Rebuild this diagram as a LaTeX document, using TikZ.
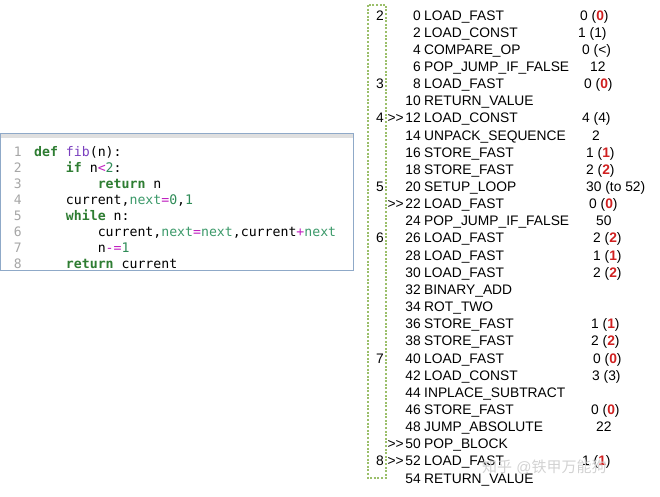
\documentclass[tikz,border=0pt]{standalone}
\usepackage{fontspec}
\setmainfont{Liberation Sans}
\setmonofont{DejaVu Sans Mono}
\newfontfamily\cjk{Noto Sans CJK SC}
\definecolor{kw}{HTML}{2E7D32}
\definecolor{fn}{HTML}{7A3FBF}
\definecolor{vr}{HTML}{3C9A6A}
\definecolor{op}{HTML}{C020C0}
\definecolor{nm}{HTML}{2E8B57}
\definecolor{rd}{HTML}{D02020}
\definecolor{dotg}{HTML}{9BBF6A}
\newcommand{\K}[1]{\textcolor{kw}{\textbf{#1}}}
\newcommand{\R}[1]{\textcolor{rd}{\textbf{#1}}}
\begin{document}
\begin{tikzpicture}[x=1pt,y=-1pt,
  bc/.style={anchor=base west,inner sep=0pt,font=\fontsize{13.8}{14}\selectfont},
  bn/.style={anchor=base east,inner sep=0pt,font=\fontsize{13.8}{14}\selectfont},
  cd/.style={anchor=base west,inner sep=0pt,font=\ttfamily\fontsize{13.2}{14}\selectfont},
  ln/.style={anchor=base east,inner sep=0pt,text=gray!70,font=\ttfamily\fontsize{13}{14}\selectfont}]
\useasboundingbox (0,0) rectangle (660,496);
% code box
\fill[white] (0,133) rectangle (353,270);
\fill[gray!25] (0,133) rectangle (353,138);
\draw[color={rgb,255:red,143;green,169;blue,200}, line width=1pt] (0,133) rectangle (353,270);
\foreach \i in {1,...,8} {\node[ln] (l\i) at (22,{156+16*(\i-1)}) {\i};}
\node[cd] (c1) at (34,156) {\K{def} \textcolor{fn}{fib}(n):};
\node[cd] (c2) at (34,172) {\phantom{xxxx}\K{if} n\textcolor{op}{<}\textcolor{nm}{2}:};
\node[cd] (c3) at (34,188) {\phantom{xxxxxxxx}\K{return} n};
\node[cd] (c4) at (34,204) {\phantom{xxxx}current,\textcolor{vr}{next}\textcolor{op}{=}\textcolor{nm}{0},\textcolor{nm}{1}};
\node[cd] (c5) at (34,220) {\phantom{xxxx}\K{while} n:};
\node[cd] (c6) at (34,236) {\phantom{xxxxxxxx}current,\textcolor{vr}{next}\textcolor{op}{=}\textcolor{vr}{next},current\textcolor{op}{+}\textcolor{vr}{next}};
\node[cd] (c7) at (34,252) {\phantom{xxxxxxxx}n\textcolor{op}{-=}\textcolor{nm}{1}};
\node[cd] (c8) at (34,268) {\phantom{xxxx}\K{return} current};
% dotted box
\draw[dotg, line width=2.2pt, dash pattern=on 2pt off 1.6pt] (368,5) rectangle (386,478);
% bytecode
\foreach \r/\off/\opc in {0/0/LOAD\_FAST,1/2/LOAD\_CONST,2/4/COMPARE\_OP,3/6/POP\_JUMP\_IF\_FALSE,4/8/LOAD\_FAST,5/10/RETURN\_VALUE,6/12/LOAD\_CONST,7/14/UNPACK\_SEQUENCE,8/16/STORE\_FAST,9/18/STORE\_FAST,10/20/SETUP\_LOOP,11/22/LOAD\_FAST,12/24/POP\_JUMP\_IF\_FALSE,13/26/LOAD\_FAST,14/28/LOAD\_FAST,15/30/LOAD\_FAST,16/32/BINARY\_ADD,17/34/ROT\_TWO,18/36/STORE\_FAST,19/38/STORE\_FAST,20/40/LOAD\_FAST,21/42/LOAD\_CONST,22/44/INPLACE\_SUBTRACT,23/46/STORE\_FAST,24/48/JUMP\_ABSOLUTE,25/50/POP\_BLOCK,26/52/LOAD\_FAST,27/54/RETURN\_VALUE}
  {\node[bn] (o\r) at (421,{20+17.15*\r}) {\off};
   \node[bc] (n\r) at (424,{20+17.15*\r}) {\opc};}
\foreach \r/\t in {0/2,4/3,6/4,10/5,13/6,20/7,26/8}
  {\node[bn] (ln\r) at (384,{20+17.15*\r}) {\t};}
\foreach \r in {6,11,25,26}
  {\node[bn] (j\r) at (404,{20+17.15*\r}) {{>}{>}};}
\foreach \r/\xx/\a in {0/580/{0 (\R{0})},1/578/{1 (1)},2/582/{0 (<)},3/590/{12},4/584/{0 (\R{0})},6/582/{4 (4)},7/592/{2},8/586/{1 (\R{1})},9/586/{2 (\R{2})},10/586/{30 (to 52)},11/589/{0 (\R{0})},12/596/{50},13/593/{2 (\R{2})},14/593/{1 (\R{1})},15/593/{2 (\R{2})},18/591/{1 (\R{1})},19/591/{2 (\R{2})},20/593/{0 (\R{0})},21/592/{3 (3)},23/591/{0 (\R{0})},24/596/{22},26/582/{1 (\R{1})}}
  {\node[bc] (a\r) at (\xx,{20+17.15*\r}) {\a};}
\node[bc, text=gray!35, font=\fontsize{15}{16}\selectfont] (wm) at (482,472) {{\cjk 知乎} @{\cjk 铁甲万能狗}};
\end{tikzpicture}
\end{document}
